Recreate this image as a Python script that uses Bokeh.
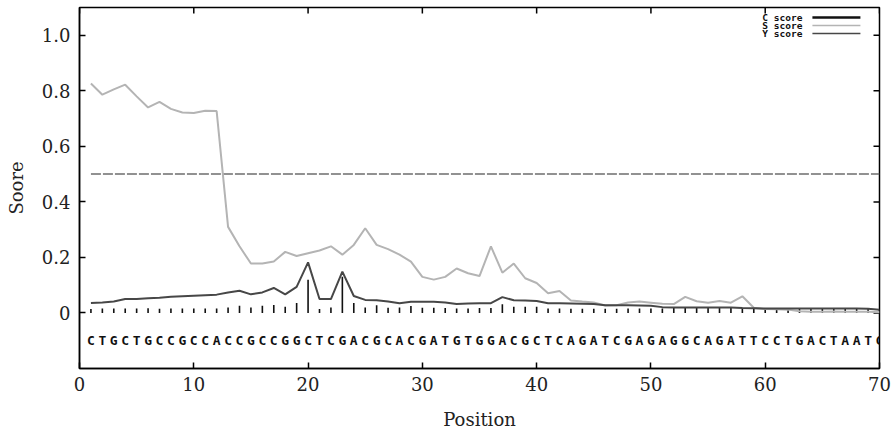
from bokeh.plotting import figure
from bokeh.models import FixedTicker, Range1d
from bokeh.core.properties import value
from bokeh.embed import file_html
from bokeh.resources import INLINE

# ---------------- data ----------------
positions = list(range(1, 71))
sequence = list("CTGCTGCCGCCACCGCCGGCTCGACGCACGATGTGGACGCTCAGATCGAGAGGCAGATTCCTGACTAATC")

s_score = [0.826, 0.786, 0.805, 0.822, 0.780, 0.740, 0.760, 0.735, 0.722, 0.720,
           0.728, 0.727, 0.310, 0.240, 0.178, 0.178, 0.185, 0.220, 0.205, 0.215,
           0.225, 0.240, 0.210, 0.245, 0.305, 0.245, 0.230, 0.210, 0.185, 0.130,
           0.120, 0.130, 0.160, 0.143, 0.133, 0.240, 0.145, 0.178, 0.125, 0.108,
           0.071, 0.079, 0.045, 0.041, 0.038, 0.027, 0.028, 0.038, 0.041, 0.037,
           0.033, 0.032, 0.058, 0.042, 0.037, 0.043, 0.037, 0.060, 0.019, 0.014,
           0.013, 0.012, 0.006, 0.004, 0.004, 0.005, 0.004, 0.004, 0.004, 0.003]

y_score = [0.036, 0.038, 0.041, 0.050, 0.050, 0.053, 0.055, 0.058, 0.060, 0.062,
           0.064, 0.066, 0.074, 0.080, 0.067, 0.074, 0.090, 0.067, 0.094, 0.182,
           0.050, 0.050, 0.149, 0.061, 0.047, 0.046, 0.041, 0.035, 0.040, 0.040,
           0.040, 0.038, 0.032, 0.034, 0.035, 0.035, 0.057, 0.046, 0.045, 0.043,
           0.035, 0.035, 0.034, 0.033, 0.032, 0.028, 0.028, 0.028, 0.027, 0.026,
           0.021, 0.020, 0.020, 0.020, 0.020, 0.020, 0.020, 0.018, 0.017, 0.016,
           0.016, 0.016, 0.016, 0.016, 0.016, 0.016, 0.016, 0.016, 0.015, 0.012]

c_score = [0.014, 0.016, 0.016, 0.016, 0.016, 0.017, 0.015, 0.016, 0.016, 0.016,
           0.016, 0.016, 0.020, 0.026, 0.020, 0.026, 0.029, 0.022, 0.036, 0.120,
           0.014, 0.020, 0.130, 0.036, 0.020, 0.028, 0.019, 0.020, 0.025, 0.019,
           0.019, 0.018, 0.016, 0.016, 0.018, 0.018, 0.031, 0.022, 0.022, 0.022,
           0.016, 0.016, 0.015, 0.015, 0.015, 0.015, 0.015, 0.016, 0.016, 0.016,
           0.016, 0.018, 0.018, 0.018, 0.018, 0.018, 0.018, 0.018, 0.014, 0.014,
           0.014, 0.014, 0.014, 0.014, 0.014, 0.014, 0.014, 0.014, 0.014, 0.014]

threshold = 0.5
x_ticks = [0, 10, 20, 30, 40, 50, 60, 70]
y_ticks = [0, 0.2, 0.4, 0.6, 0.8, 1.0]
y_tick_labels = ["0", "0.2", "0.4", "0.6", "0.8", "1.0"]
legend_labels = ["C score", "S score", "Y score"]
x_title = "Position"
y_title = "Soore"

# ---------------- styling ----------------
SERIF = "DejaVu Serif"
MONO = "DejaVu Sans Mono"
C_COLOR = "#111111"
S_COLOR = "#b4b4b4"
Y_COLOR = "#474747"
TH_COLOR = "#6e6e6e"
TXT = "#222222"
X0, X1, Y0, Y1 = 0, 70, -0.2, 1.1
W, H = 895, 436
BL, BR, BT, BB = 79, 16, 7, 68
FRAME_W, FRAME_H = W - BL - BR, H - BT - BB
TICK_PX = 6

p = figure(width=W, height=H,
           x_range=Range1d(X0, X1), y_range=Range1d(Y0, Y1),
           output_backend="svg", toolbar_location=None,
           x_axis_label=x_title, y_axis_label=y_title,
           min_border_left=BL, min_border_right=BR,
           min_border_top=BT, min_border_bottom=BB)
p.grid.visible = False
p.background_fill_color = "white"
p.border_fill_color = "white"
p.outline_line_color = "black"
p.outline_line_width = 1.5


def style_axis(ax, ticks):
    ax.ticker = FixedTicker(ticks=ticks)
    ax.axis_line_color = "black"
    ax.axis_line_width = 1.5
    ax.major_tick_in = TICK_PX
    ax.major_tick_out = 0
    ax.major_tick_line_width = 1.5
    ax.minor_tick_line_color = None
    ax.major_label_text_font = SERIF
    ax.major_label_text_color = TXT
    ax.major_label_text_font_size = "18px"
    ax.axis_label_text_font = SERIF
    ax.axis_label_text_font_size = "18px"
    ax.axis_label_text_font_style = "normal"
    ax.axis_label_text_color = TXT


xa = p.xaxis[0]
style_axis(xa, x_ticks)
xa.major_label_standoff = 8
xa.axis_label_standoff = 15

ya = p.yaxis[0]
style_axis(ya, y_ticks)
ya.major_label_standoff = 9
ya.major_label_overrides = dict(zip(y_ticks, y_tick_labels))
ya.axis_label_standoff = 12

# mirrored inward ticks on the top and right edges
dy_tick = TICK_PX * (Y1 - Y0) / FRAME_H
dx_tick = TICK_PX * (X1 - X0) / FRAME_W
p.segment(x0=x_ticks, y0=[Y1] * len(x_ticks), x1=x_ticks, y1=[Y1 - dy_tick] * len(x_ticks),
          line_color="black", line_width=1.5)
p.segment(x0=[X1] * len(y_ticks), y0=y_ticks, x1=[X1 - dx_tick] * len(y_ticks), y1=y_ticks,
          line_color="black", line_width=1.5)

# threshold line
p.line(x=[positions[0], positions[-1]], y=[threshold, threshold],
       line_color=TH_COLOR, line_width=1.5, line_dash="10 2")

# C score impulses
p.segment(x0=positions, y0=[0] * len(positions), x1=positions, y1=c_score,
          line_color=C_COLOR, line_width=1.6)

# S and Y score lines
p.line(x=positions, y=s_score, line_color=S_COLOR, line_width=2)
p.line(x=positions, y=y_score, line_color=Y_COLOR, line_width=2)

# sequence letters
seq_y = -0.099
p.text(x=positions, y=[seq_y] * len(positions), text=sequence,
       text_font=value(MONO), text_font_style="bold", text_font_size="13px",
       text_align="center", text_baseline="middle", text_color="#111111")

# legend (label then line sample, top right)
leg_y = [1.064, 1.0352, 1.0064]
leg_colors = [C_COLOR, S_COLOR, Y_COLOR]
leg_widths = [2.5, 1.6, 1.6]
p.text(x=[63.25] * 3, y=leg_y, text=legend_labels,
       text_font=value(MONO), text_font_size="9.5px", text_font_style="bold",
       text_align="right", text_baseline="middle", text_color="#111111")
for yy, col, w in zip(leg_y, leg_colors, leg_widths):
    p.line(x=[64.13, 68.33], y=[yy, yy], line_color=col, line_width=w)

open("out.html", "w").write(file_html(p, INLINE))
